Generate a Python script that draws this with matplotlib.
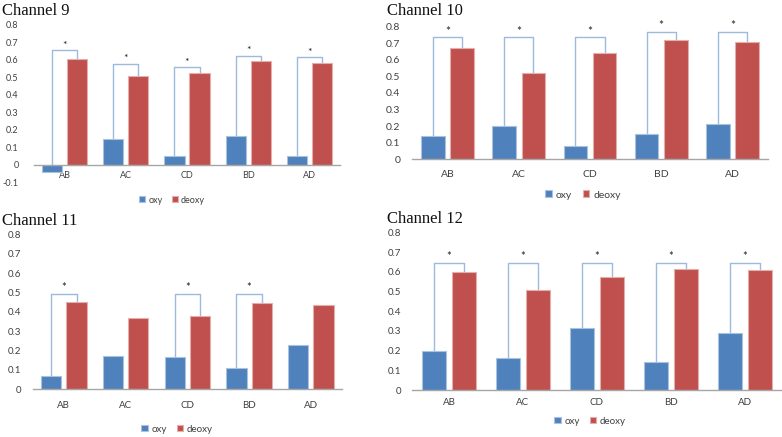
import numpy as np
import matplotlib.pyplot as plt

# tamanho da figura em pixels (dpi 100)
W, H = 782, 437

categorias = ['AB', 'AC', 'CD', 'BD', 'AD']

# valores
oxy_ch9 = [-0.042, 0.147, 0.051, 0.166, 0.047]
deoxy_ch9 = [0.604, 0.505, 0.522, 0.592, 0.581]
sig_ch9 = [0.655, 0.577, 0.558, 0.623, 0.615]

oxy_ch10 = [0.143, 0.203, 0.080, 0.155, 0.211]
deoxy_ch10 = [0.669, 0.519, 0.641, 0.718, 0.710]
sig_ch10 = [0.736, 0.736, 0.736, 0.770, 0.770]

oxy_ch11 = [0.067, 0.172, 0.169, 0.110, 0.229]
deoxy_ch11 = [0.449, 0.367, 0.379, 0.448, 0.434]
sig_ch11 = [0.494, None, 0.494, 0.494, None]

oxy_ch12 = [0.196, 0.161, 0.315, 0.144, 0.291]
deoxy_ch12 = [0.601, 0.506, 0.575, 0.614, 0.607]
sig_ch12 = [0.646, 0.646, 0.646, 0.646, 0.646]

azul = '#4F81BD'
vermelho = '#C0504D'
cor_colchete = '#9DB9DC'
cor_eixo = '#A6A6A6'
cor_texto = '#404040'

fig = plt.figure(figsize=(W / 100, H / 100), dpi=100)


def px_eixo(esq, dir_, topo, base):
    # converte pixels para fração da figura
    return [esq / W, 1 - base / H, (dir_ - esq) / W, (base - topo) / H]


def painel(caixa, titulo, pos_titulo, oxy, deoxy, sig, ymin, fs,
           pad_y, pad_x, pos_leg):
    ax = fig.add_axes(px_eixo(*caixa))
    x = np.arange(len(categorias))
    larg = 0.33
    desl = 0.205
    ax.bar(x - desl, oxy, larg, color=azul, edgecolor='#A9C2E0',
           linewidth=0.8, label='oxy', zorder=2)
    ax.bar(x + desl, deoxy, larg, color=vermelho, edgecolor='#E3AEAC',
           linewidth=0.8, label='deoxy', zorder=2)

    # colchetes de significância
    for i, s in enumerate(sig):
        if s is None:
            continue
        xl, xr = x[i] - desl, x[i] + desl
        ax.plot([xl, xl, xr, xr], [max(oxy[i], 0), s, s, deoxy[i]],
                color=cor_colchete, lw=1, zorder=1)
        ax.annotate('*', (x[i], s), xytext=(0, 0.3),
                    textcoords='offset points', ha='center', va='bottom',
                    fontsize=fs + 1, color='#222222')

    ax.set_xlim(-0.5, len(categorias) - 0.5)
    ax.set_ylim(ymin, 0.8)
    ticks = np.round(np.arange(ymin, 0.801, 0.1), 1)
    ax.set_yticks(ticks)
    ax.set_yticklabels(['%g' % t for t in ticks])
    ax.set_xticks(x)
    ax.set_xticklabels(categorias)
    ax.tick_params(axis='y', length=0, pad=pad_y, labelsize=fs,
                   labelcolor=cor_texto)
    ax.tick_params(axis='x', length=0, pad=pad_x, labelsize=fs,
                   labelcolor=cor_texto)
    for lado in ['left', 'right', 'top']:
        ax.spines[lado].set_visible(False)
    ax.spines['bottom'].set_position(('data', 0))
    ax.spines['bottom'].set_color(cor_eixo)
    ax.spines['bottom'].set_linewidth(1)
    ax.patch.set_alpha(0)

    fig.text(pos_titulo[0] / W, 1 - pos_titulo[1] / H, titulo,
             family='Liberation Serif', fontsize=12, va='baseline',
             ha='left', color='#111111')

    ax.legend(loc='center', bbox_to_anchor=(pos_leg[0] / W, 1 - pos_leg[1] / H),
              bbox_transform=fig.transFigure, ncol=2, frameon=False,
              fontsize=fs, handlelength=0.65, handleheight=0.65,
              handletextpad=0.4, columnspacing=1.0, labelcolor=cor_texto)
    return ax


plt.rcParams['font.family'] = ['Lato', 'DejaVu Sans']

painel((34, 340, 25, 182), 'Channel 9', (2, 15), oxy_ch9, deoxy_ch9,
       sig_ch9, -0.1, 6.5, 11, 5, (172, 200))
painel((412, 768, 26.7, 159.3), 'Channel 10', (387, 15), oxy_ch10,
       deoxy_ch10, sig_ch10, 0.0, 7.5, 8.5, 8, (583, 195))
painel((33, 341.7, 234.3, 389.3), 'Channel 11', (2, 225), oxy_ch11,
       deoxy_ch11, sig_ch11, 0.0, 7, 8.5, 8.5, (177, 429))
painel((412, 782, 232.3, 390), 'Channel 12', (387, 223.5), oxy_ch12,
       deoxy_ch12, sig_ch12, 0.0, 7, 8, 6, (590, 421))

fig.savefig('out.png', dpi=100)
